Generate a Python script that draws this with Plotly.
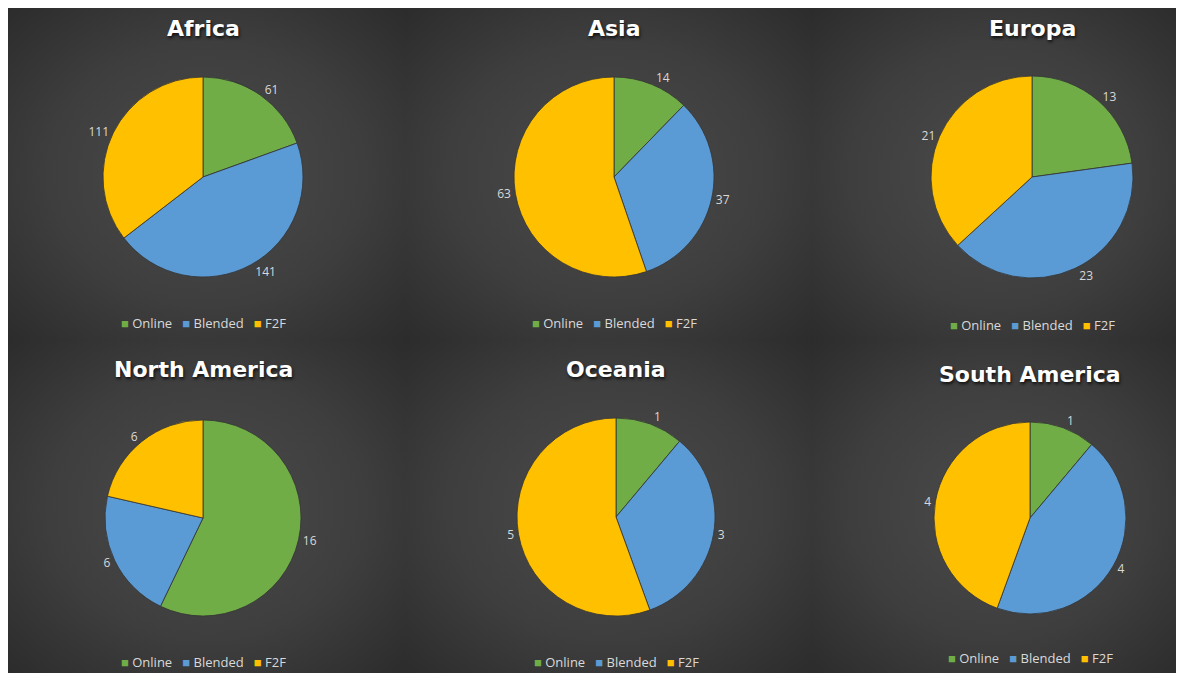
import base64
import plotly.graph_objects as go

# data
regions = ["Africa", "Asia", "Europa", "North America", "Oceania", "South America"]
modes = ["Online", "Blended", "F2F"]
online = [61, 14, 13, 16, 1, 1]
blended = [141, 37, 23, 6, 3, 4]
f2f = [111, 63, 21, 6, 5, 4]

colors = ["#70AD47", "#5B9BD5", "#FFC000"]

# the page puts the figure 8px in from the top-left corner
OFF = 8
W, H = 1184 - OFF, 673 - OFF
# page-pixel layout of each panel: pie centre, radius, title y, legend y
centres = [(203, 177), (614, 177), (1032, 177), (203, 518), (616, 517), (1030, 518)]
radius = [100, 100, 101, 98, 99, 96]
title_y = [28, 28, 29, 369, 369, 374]
legend_y = [323, 323, 325, 662, 662, 658]
col_edges = [8, 405, 812, 1184]
row_edges = [8, 340, 673]


def px(x):
    return (x - OFF) / W


def py(y):
    return 1 - (y - OFF) / H


def gradient_uri(w, h):
    svg = (
        '<svg xmlns="http://www.w3.org/2000/svg" width="%d" height="%d" viewBox="0 0 %d %d" '
        'preserveAspectRatio="none"><defs><radialGradient id="g" cx="50%%" cy="50%%" r="72%%">'
        '<stop offset="0" stop-color="#4b4b4b"/><stop offset="0.55" stop-color="#3e3e3e"/>'
        '<stop offset="1" stop-color="#2b2b2b"/></radialGradient></defs>'
        '<rect width="%d" height="%d" fill="url(#g)"/></svg>' % (w, h, w, h, w, h)
    )
    return "data:image/svg+xml;base64," + base64.b64encode(svg.encode()).decode()


# Excel-style compact legend: small coloured square right before each label
legend_text = "\u00a0\u00a0\u00a0".join(
    "<span style='color:%s;font-size:13px'>■</span>\u00a0%s" % (c, m) for c, m in zip(colors, modes)
)

fig = go.Figure()
images = []
annotations = []

for i, name in enumerate(regions):
    cx, cy = centres[i]
    r = radius[i]
    fig.add_trace(go.Pie(
        labels=modes,
        values=[online[i], blended[i], f2f[i]],
        sort=False,
        direction="clockwise",
        rotation=0,
        marker=dict(colors=colors, line=dict(color="#333333", width=0.8)),
        textinfo="value",
        textposition="outside",
        outsidetextfont=dict(color="#d9d9d9", size=12, family="Open Sans"),
        automargin=False,
        domain=dict(x=[px(cx - r), px(cx + r)], y=[py(cy + r), py(cy - r)]),
        name=name,
        hoverinfo="label+value",
        showlegend=False,
    ))
    annotations.append(dict(
        text=name, x=px(cx), y=py(title_y[i]), xref="paper", yref="paper",
        xanchor="center", yanchor="middle", showarrow=False,
        font=dict(color="white", size=22, family="DejaVu Sans", weight="bold",
                  shadow="1px 2px 3px #111111"),
    ))
    annotations.append(dict(
        text=legend_text, x=px(cx), y=py(legend_y[i]), xref="paper", yref="paper",
        xanchor="center", yanchor="middle", showarrow=False,
        font=dict(color="#d9d9d9", size=13, family="Open Sans"),
    ))

    col, row = i % 3, i // 3
    x0, x1 = col_edges[col], col_edges[col + 1]
    y0, y1 = row_edges[row], row_edges[row + 1]
    images.append(dict(
        source=gradient_uri(x1 - x0, y1 - y0), xref="paper", yref="paper",
        x=px(x0), y=py(y0), sizex=(x1 - x0) / W, sizey=(y1 - y0) / H,
        xanchor="left", yanchor="top", sizing="stretch", layer="below",
    ))

fig.update_layout(
    width=W, height=H,
    margin=dict(l=0, r=0, t=0, b=0),
    paper_bgcolor="#2b2b2b",
    plot_bgcolor="#2b2b2b",
    images=images,
    annotations=annotations,
    showlegend=False,
)

# no scrollbars: the figure runs to the right and bottom edges of the window
fig.write_html("out.html", post_script="document.body.style.overflow='hidden';")
